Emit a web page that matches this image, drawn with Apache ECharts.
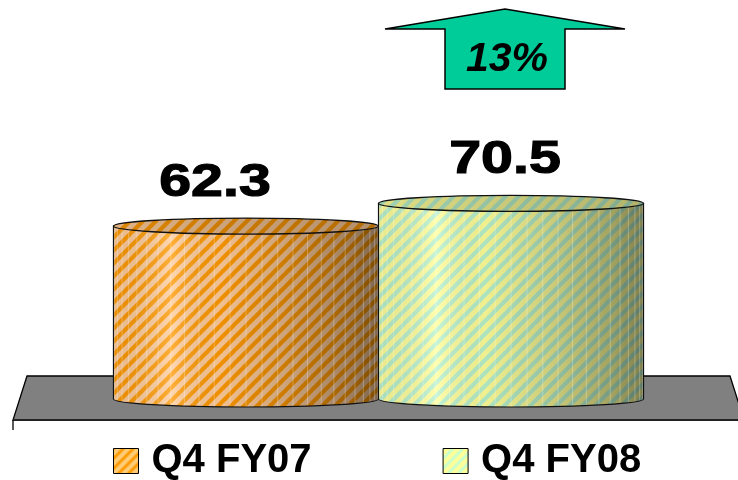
<!DOCTYPE html>
<html>
<head>
<meta charset="utf-8">
<script src="https://cdn.jsdelivr.net/npm/echarts@6/dist/echarts.min.js"></script>
<style>
  html, body { margin: 0; padding: 0; background: #fff; }
  #chart { width: 738px; height: 480px; }
</style>
</head>
<body>
<div id="chart"></div>
<script>
// Quarterly figures shown as two 3D cylinders
const seriesNames = ['Q4 FY07', 'Q4 FY08'];
const values = [62.3, 70.5];
const categories = [''];

// Striped fills: [background, stripe]
const stripeColors = [['#FFCC99', '#FF9900'], ['#FFFF99', '#B8F2CC']];
const legendStripeColors = [['#FFCC77', '#FF9900'], ['#FFFF99', '#C8FFCC']];

function makeStripes(bg, fg, size, width) {
  const c = document.createElement('canvas');
  c.width = size; c.height = size;
  const ctx = c.getContext('2d');
  ctx.fillStyle = bg;
  ctx.fillRect(0, 0, size, size);
  ctx.strokeStyle = fg;
  ctx.lineWidth = width;
  ctx.beginPath();
  for (let k = -1; k <= 1; k++) {
    ctx.moveTo(k * size - 1, size + 1);
    ctx.lineTo(k * size + size + 1, -1);
  }
  ctx.stroke();
  return c;
}

const bodyPatterns = stripeColors.map(p => ({ image: makeStripes(p[0], p[1], 13, 4.2), repeat: 'repeat' }));
const legendPatterns = legendStripeColors.map(p => ({ image: makeStripes(p[0], p[1], 10, 3), repeat: 'repeat' }));

const growth = Math.round((values[1] / values[0] - 1) * 100) + '%';

const cylFrac = 0.3686;   // cylinder width as part of the category band
const ry = 8;             // ellipse half-height of the cylinder ends
const labelShift = [-31, -6];

const bodyShade = {
  type: 'linear', x: 0, y: 0, x2: 1, y2: 0,
  colorStops: [
    { offset: 0, color: 'rgba(0,0,0,0.08)' },
    { offset: 0.22, color: 'rgba(255,255,255,0.22)' },
    { offset: 0.4, color: 'rgba(0,0,0,0.06)' },
    { offset: 0.65, color: 'rgba(0,0,0,0.2)' },
    { offset: 0.88, color: 'rgba(0,0,0,0.36)' },
    { offset: 1, color: 'rgba(0,0,0,0.5)' }
  ]
};
const topShade = {
  type: 'linear', x: 0, y: 0, x2: 1, y2: 0,
  colorStops: [
    { offset: 0, color: 'rgba(0,0,0,0.12)' },
    { offset: 0.3, color: 'rgba(0,0,0,0.18)' },
    { offset: 1, color: 'rgba(0,0,0,0.3)' }
  ]
};

function cylinderRenderer(idx) {
  return function (params, api) {
    const val = api.value(1);
    const base = api.coord([0, 0]);
    const top = api.coord([0, val]);
    const bandW = api.size([1, 0])[0];
    const w = bandW * cylFrac;
    const r = w / 2;
    const cx = base[0] + (idx === 0 ? -r : r);
    const L = cx - r, R = cx + r;
    const yT = top[1], yB = base[1];
    const bodyPath = `M${L},${yT} L${L},${yB} A${r},${ry} 0 0 0 ${R},${yB} L${R},${yT} Z`;
    const ellPath = `M${L},${yT} A${r},${ry} 0 1 0 ${R},${yT} A${r},${ry} 0 1 0 ${L},${yT} Z`;
    const facets = [];
    const N = 26;
    for (let k = 1; k < N; k++) {
      const x = cx - r * Math.cos(k * Math.PI / N);
      facets.push({
        type: 'line',
        shape: { x1: x, y1: yT, x2: x, y2: yB + ry * Math.sin(k * Math.PI / N) },
        style: { stroke: 'rgba(255,255,255,0.28)', lineWidth: 1 }
      });
    }
    return {
      type: 'group',
      children: [
        { type: 'path', shape: { pathData: bodyPath }, style: { fill: bodyPatterns[idx], stroke: null } },
        { type: 'path', shape: { pathData: bodyPath }, style: { fill: bodyShade, stroke: null } },
        { type: 'group', children: facets },
        { type: 'path', shape: { pathData: bodyPath }, style: { fill: null, stroke: '#111', lineWidth: 1.2 } },
        { type: 'path', shape: { pathData: ellPath }, style: { fill: bodyPatterns[idx], stroke: null } },
        { type: 'path', shape: { pathData: ellPath }, style: { fill: topShade, stroke: '#111', lineWidth: 1.4 } },
        {
          type: 'text',
          x: cx + labelShift[idx],
          y: yT - ry - 12,
          scaleX: 1.22,
          style: {
            text: String(val),
            font: 'bold 47px "Liberation Sans", Arial, sans-serif',
            fill: '#000',
            stroke: '#000',
            lineWidth: 1.2,
            textAlign: 'center',
            textVerticalAlign: 'bottom'
          }
        }
      ]
    };
  };
}

const chart = echarts.init(document.getElementById('chart'), null, { renderer: 'canvas' });

chart.setOption({
  animation: false,
  backgroundColor: '#fff',
  grid: { left: 19, right: 0, top: 121.5, bottom: 81 },
  xAxis: { type: 'category', data: categories, show: false },
  yAxis: { type: 'value', min: 0, max: 100, show: false },
  legend: {
    data: seriesNames,
    left: 108,
    top: 436,
    icon: 'rect',
    itemWidth: 25,
    itemHeight: 25,
    itemGap: 131,
    itemStyle: { borderColor: '#000', borderWidth: 1 },
    textStyle: {
      fontSize: 40,
      fontWeight: 'bold',
      fontFamily: '"Liberation Sans", Arial, sans-serif',
      color: '#000',
      padding: [0, 0, 0, 8]
    }
  },
  graphic: [
    // floor of the 3D plot area
    {
      type: 'polygon', z: -10,
      shape: { points: [[27, 376], [730, 376], [744, 420], [13, 420]] },
      style: { fill: '#808080', stroke: '#000', lineWidth: 1.3 }
    },
    {
      type: 'line', z: -9,
      shape: { x1: 13, y1: 420, x2: 738, y2: 420 },
      style: { stroke: '#222', lineWidth: 2 }
    },
    {
      type: 'line', z: -9,
      shape: { x1: 13, y1: 420, x2: 13, y2: 430 },
      style: { stroke: '#000', lineWidth: 1.3 }
    },
    // growth arrow
    {
      type: 'polygon', z: 10,
      shape: { points: [[385, 29], [505, 9], [625, 29], [565, 29], [565, 89], [445, 89], [445, 29]] },
      style: { fill: '#00CC99', stroke: '#000', lineWidth: 1.5 }
    },
    {
      type: 'text', z: 11,
      x: 507, y: 60,
      style: {
        text: growth,
        font: 'italic bold 41px "Liberation Sans", Arial, sans-serif',
        fill: '#000',
        textAlign: 'center',
        textVerticalAlign: 'middle'
      }
    }
  ],
  series: seriesNames.map((name, i) => ({
    name: name,
    type: 'custom',
    renderItem: cylinderRenderer(i),
    itemStyle: { color: legendPatterns[i] },
    encode: { x: 0, y: 1 },
    data: [[0, values[i]]],
    z: 2 + i
  }))
});
</script>
</body>
</html>
